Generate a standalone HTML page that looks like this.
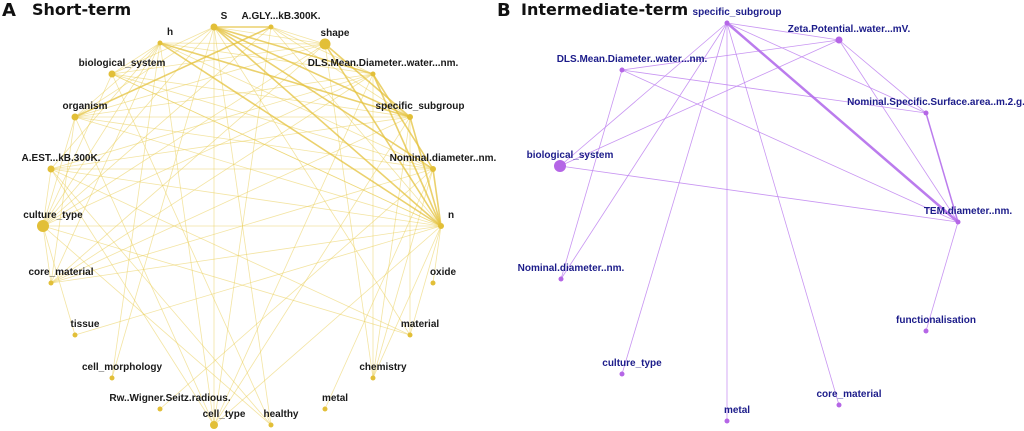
<!DOCTYPE html>
<html><head><meta charset="utf-8"><style>
body{margin:0;background:#fff;width:1024px;height:431px;overflow:hidden}
svg{display:block}
.t{font-family:"DejaVu Sans",sans-serif;font-weight:bold;font-size:16px;fill:#111}
.la{font-family:"Liberation Sans",sans-serif;font-weight:bold;font-size:10px;fill:#1a1a1a;text-anchor:middle}
.lb{font-family:"Liberation Sans",sans-serif;font-weight:bold;font-size:10px;fill:#1c1c8a;text-anchor:middle}
</style></head><body>
<svg id="s" width="1024" height="431" xmlns="http://www.w3.org/2000/svg">
<text class="t" x="2" y="16" style="font-size:18px">A</text><text class="t" x="32" y="15">Short-term</text>
<text class="t" x="497" y="16" style="font-size:18px">B</text><text class="t" x="521" y="15">Intermediate-term</text>
<g id="ea"></g><g id="eb"></g><g id="na"></g><g id="nb"></g>
</svg>
<script>
var NS="http://www.w3.org/2000/svg";
function el(p,t,a,txt){var e=document.createElementNS(NS,t);for(var k in a)e.setAttribute(k,a[k]);if(txt)e.textContent=txt;document.getElementById(p).appendChild(e);}
var A={S:[214,27,3.5,"S"],AG:[271,27,2.5,"A.GLY...kB.300K."],h:[160,43,2.5,"h"],sh:[325,44,5.5,"shape"],bio:[112,74,3.5,"biological_system"],DLS:[373,74,2.5,"DLS.Mean.Diameter..water...nm."],org:[75,117,3.5,"organism"],ss:[410,117,3,"specific_subgroup"],AE:[51,169,3.5,"A.EST...kB.300K."],nd:[433,169,3,"Nominal.diameter..nm."],ct:[43,226,6,"culture_type"],n:[441,226,3,"n"],cm:[51,283,2.5,"core_material"],ox:[433,283,2.5,"oxide"],ti:[75,335,2.5,"tissue"],ma:[410,335,2.5,"material"],cmo:[112,378,2.5,"cell_morphology"],ch:[373,378,2.5,"chemistry"],rw:[160,409,2.5,"Rw..Wigner.Seitz.radious."],me:[325,409,2.5,"metal"],cty:[214,425,4,"cell_type"],he:[271,425,2.5,"healthy"]};
var thickA="S-n h-n S-nd AG-org S-ss S-DLS sh-n DLS-n ss-n nd-n h-ss S-AG sh-ss DLS-nd";
var thinA="S-bio S-org S-ct S-cty S-sh AG-n AG-DLS AG-ss AG-cty AG-sh h-bio h-org h-AE h-ct h-cm h-sh h-DLS h-nd h-cmo bio-ct bio-n bio-he bio-ss bio-sh org-nd org-ss org-n org-cm org-ct org-sh AE-nd AE-n AE-ct AE-ss AE-cty ct-n ct-ma ct-cm ct-ti ct-he ct-DLS ct-sh cm-n cm-nd cm-ss cm-DLS ti-n rw-nd cty-DLS cty-ss cty-n me-nd ch-n ch-nd ch-ss ch-DLS ma-n ma-AE cty-org he-AE cmo-S bio-nd org-DLS AE-DLS cm-sh ma-ss ch-sh S-he h-cty bio-n S-ma AG-ct ox-n";
function draw(N,list,g,col,w){list.split(" ").forEach(function(p){var q=p.split("-"),a=N[q[0]],b=N[q[1]];el(g,"line",{x1:a[0],y1:a[1],x2:b[0],y2:b[1],stroke:col,"stroke-width":w});});}
draw(A,thinA,"ea","rgba(234,205,85,0.55)",0.8);
draw(A,thickA,"ea","rgba(228,194,60,0.75)",1.6);
for(var k in A){var v=A[k];el("na","circle",{cx:v[0],cy:v[1],r:v[2],fill:"#e2bf38"});el("na","text",{x:v[0]+10,y:v[1]-8,"class":"la"},v[3]);}
var B={ss:[727,23,2.5,"specific_subgroup"],z:[839,40,3.5,"Zeta.Potential..water...mV."],DLS:[622,70,2.5,"DLS.Mean.Diameter..water...nm."],ns:[926,113,2.5,"Nominal.Specific.Surface.area..m.2.g."],bio:[560,166,6,"biological_system"],tem:[958,222,2.5,"TEM.diameter..nm."],nd:[561,279,2.5,"Nominal.diameter..nm."],fu:[926,331,2.5,"functionalisation"],ct:[622,374,2.5,"culture_type"],co:[839,405,2.5,"core_material"],me:[727,421,2.5,"metal"]};
draw(B,"ss-z ss-ns ss-bio ss-nd ss-ct ss-me ss-co z-DLS z-bio z-tem z-ns DLS-ns DLS-tem DLS-nd bio-tem tem-fu","eb","rgba(190,130,240,0.85)",0.8);
draw(B,"ss-tem","eb","rgba(180,110,235,0.9)",2.5);
draw(B,"ns-tem","eb","rgba(180,110,235,0.9)",1.5);
for(var k in B){var v=B[k];el("nb","circle",{cx:v[0],cy:v[1],r:v[2],fill:"#b566e6"});el("nb","text",{x:v[0]+10,y:v[1]-8,"class":"lb"},v[3]);}
</script>
</body></html>
